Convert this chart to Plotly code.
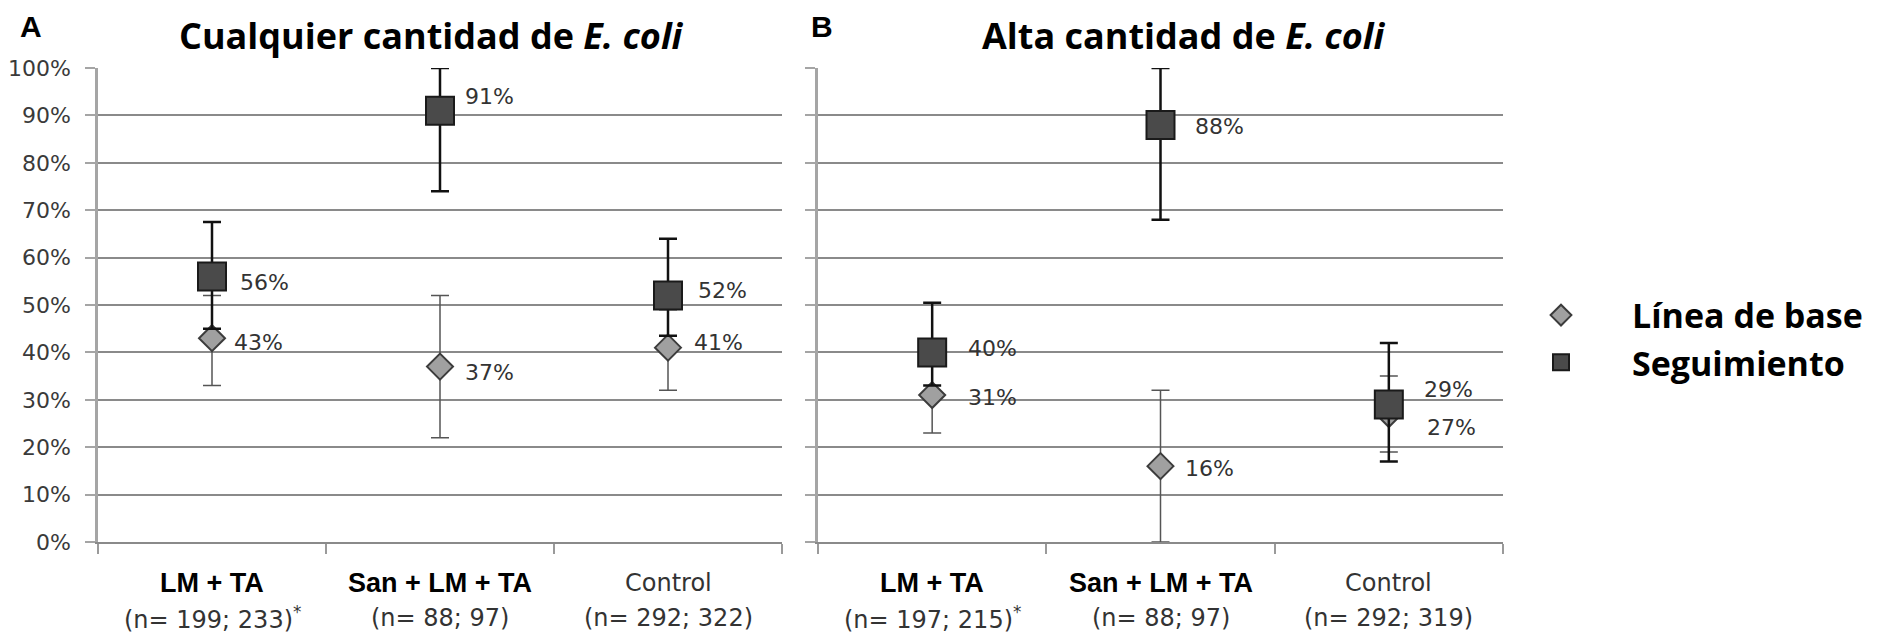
import plotly.graph_objects as go

# ---------------- data ----------------
categories = ["LM + TA", "San + LM + TA", "Control"]
cat_bold = [True, True, False]
n_labels_a = ["(n= 199; 233)<sup>*</sup>", "(n= 88; 97)", "(n= 292; 322)"]
n_labels_b = ["(n= 197; 215)<sup>*</sup>", "(n= 88; 97)", "(n= 292; 319)"]

# Panel A: Cualquier cantidad de E. coli
a_base = [43, 37, 41]
a_base_lo = [33, 22, 32]
a_base_hi = [52, 52, 49]
a_foll = [56, 91, 52]
a_foll_lo = [45, 74, 43.5]
a_foll_hi = [67.5, 100, 64]

# Panel B: Alta cantidad de E. coli
b_base = [31, 16, 27]
b_base_lo = [23, 0, 19]
b_base_hi = [38, 32, 35]
b_foll = [40, 88, 29]
b_foll_lo = [33, 68, 17]
b_foll_hi = [50.5, 100, 42]

series_names = ["Línea de base", "Seguimiento"]
titles = ["Cualquier cantidad de <i>E. coli</i>", "Alta cantidad de <i>E. coli</i>"]
panel_letters = ["A", "B"]

# ---------------- style ----------------
W, H = 1867, 627          # page body has an 8px margin
OFF = 8
def px(x):
    return (x - OFF) / W
def py(y):
    return 1 - (y - OFF) / H

TICK_FONT = "DejaVu Sans"
BOLD_FONT = "Liberation Sans"
TITLE_FONT = "Open Sans"

# label offsets (px) per panel/series/category
shift_a_base = [(20, -4), (23, -6), (24, 5)]
shift_a_foll = [(26, -6), (23, 14), (28, 5)]
shift_b_base = [(34, -2), (22, -2), (36, -13)]
shift_b_foll = [(34, 4), (32, -2), (33, 15)]

fig = go.Figure()

def add_series(xa, ya, vals, lo, hi, kind, show):
    plus = [h - v for v, h in zip(vals, hi)]
    minus = [v - l for v, l in zip(vals, lo)]
    if kind == 0:
        marker = dict(symbol="diamond", size=20, color="#a0a0a0",
                      line=dict(color="#3c3c3c", width=2))
        err = dict(type="data", array=plus, arrayminus=minus, visible=True,
                   color="#555555", thickness=1.5, width=9)
    else:
        marker = dict(symbol="square", size=28, color="#4a4a4a",
                      line=dict(color="#1a1a1a", width=2))
        err = dict(type="data", array=plus, arrayminus=minus, visible=True,
                   color="#111111", thickness=2.5, width=9)
    fig.add_trace(go.Scatter(
        x=categories, y=vals, mode="markers", name=series_names[kind],
        marker=marker, error_y=err, xaxis=xa, yaxis=ya,
        showlegend=show, legendgroup=series_names[kind], cliponaxis=False,
        hoverinfo="skip"))

add_series("x", "y", a_base, a_base_lo, a_base_hi, 0, True)
add_series("x", "y", a_foll, a_foll_lo, a_foll_hi, 1, True)
add_series("x2", "y2", b_base, b_base_lo, b_base_hi, 0, False)
add_series("x2", "y2", b_foll, b_foll_lo, b_foll_hi, 1, False)

annotations = []
def add_labels(xr, yr, vals, shifts):
    for c, v, (dx, dy) in zip(categories, vals, shifts):
        annotations.append(dict(
            x=c, y=v, xref=xr, yref=yr, text=f"{v}%", showarrow=False,
            xanchor="left", yanchor="middle", xshift=dx, yshift=dy,
            font=dict(family=TICK_FONT, size=22, color="#333333")))

add_labels("x", "y", a_base, shift_a_base)
add_labels("x", "y", a_foll, shift_a_foll)
add_labels("x2", "y2", b_base, shift_b_base)
add_labels("x2", "y2", b_foll, shift_b_foll)

# category labels (two lines)
for xr, nl in (("x", n_labels_a), ("x2", n_labels_b)):
    for c, bold, n in zip(categories, cat_bold, nl):
        if bold:
            annotations.append(dict(
                x=c, y=py(583), xref=xr, yref="paper", text=f"<b>{c}</b>",
                showarrow=False, xanchor="center", yanchor="middle",
                font=dict(family=BOLD_FONT, size=27, color="#000000")))
        else:
            annotations.append(dict(
                x=c, y=py(583), xref=xr, yref="paper", text=c,
                showarrow=False, xanchor="center", yanchor="middle",
                font=dict(family=TICK_FONT, size=24, color="#333333")))
        annotations.append(dict(
            x=c, y=py(618), xref=xr, yref="paper", text=n,
            showarrow=False, xanchor="center", yanchor="middle",
            font=dict(family=TICK_FONT, size=24, color="#333333")))

# titles and panel letters
for t, xc in zip(titles, (431, 1183)):
    annotations.append(dict(
        x=px(xc), y=py(35), xref="paper", yref="paper", text=f"<b>{t}</b>",
        showarrow=False, xanchor="center", yanchor="middle",
        font=dict(family=TITLE_FONT, size=36, color="#000000")))
for L, xc in zip(panel_letters, (31, 822)):
    annotations.append(dict(
        x=px(xc), y=py(27), xref="paper", yref="paper", text=f"<b>{L}</b>",
        showarrow=False, xanchor="center", yanchor="middle",
        font=dict(family=BOLD_FONT, size=30, color="#000000")))

xcommon = dict(type="category", categoryarray=categories, range=[-0.5, 2.5],
               showgrid=False, zeroline=False, showline=True, linecolor="#8a8a8a",
               linewidth=1.5, ticks="outside", tickson="boundaries", ticklen=10,
               tickcolor="#9a9a9a", tickwidth=2, showticklabels=False,
               fixedrange=True, automargin=False)
ycommon = dict(range=[0, 100], dtick=10, tick0=0, showgrid=True, gridcolor="#8a8a8a",
               gridwidth=1.5, zeroline=False, showline=True, linecolor="#a5a5a5",
               linewidth=2.5, ticks="outside", ticklen=10, tickcolor="#a5a5a5",
               tickwidth=2, fixedrange=True, automargin=False)

ydom = [py(542), py(68)]
fig.update_layout(
    template="none",
    width=W, height=H, autosize=False,
    margin=dict(l=0, r=0, t=0, b=0, pad=0),
    paper_bgcolor="white", plot_bgcolor="white",
    xaxis=dict(domain=[px(98), px(782)], anchor="y", **xcommon),
    xaxis2=dict(domain=[px(818), px(1503)], anchor="y2", **xcommon),
    yaxis=dict(domain=ydom, anchor="x", ticksuffix="%", showticklabels=True,
               ticklabelstandoff=10,
               tickfont=dict(family=TICK_FONT, size=22, color="#3a3a3a"), **ycommon),
    yaxis2=dict(domain=ydom, anchor="x2", showticklabels=False, **ycommon),
    legend=dict(x=px(1490), y=py(339), xanchor="left", yanchor="middle",
                itemwidth=132, tracegroupgap=10, bgcolor="rgba(0,0,0,0)",
                font=dict(family=TITLE_FONT, size=34, color="#000000", weight="bold"),
                traceorder="normal"),
    annotations=annotations,
    showlegend=True,
)

fig.write_html("out.html")
